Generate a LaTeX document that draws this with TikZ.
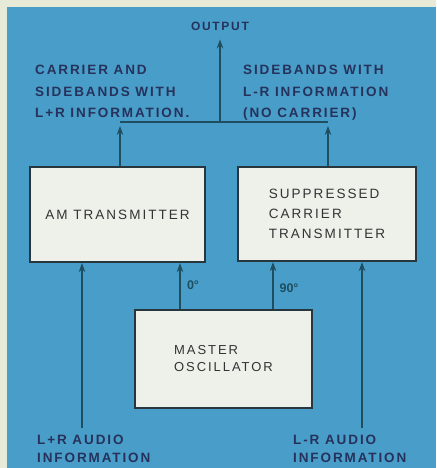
\documentclass[tikz,border=0pt]{standalone}
\usepackage{fontspec}
\setmainfont{Liberation Sans}
\newfontfamily\lblfont[LetterSpace=14]{Liberation Sans}
\newfontfamily\boxfont[LetterSpace=15]{Liberation Sans}
\usetikzlibrary{arrows.meta,positioning}
\definecolor{paper}{RGB}{232,234,216}
\definecolor{panel}{RGB}{72,158,200}
\definecolor{inkblue}{RGB}{38,50,92}
\definecolor{wire}{RGB}{30,78,96}
\definecolor{boxfill}{RGB}{238,240,234}
\definecolor{boxline}{RGB}{40,55,62}
\begin{document}
\begin{tikzpicture}[
    x=1pt, y=-1pt,
    block/.style={draw=boxline, line width=2.2pt, fill=boxfill, align=left, text=black!80,
        font=\boxfont\fontsize{13.5}{20}\selectfont},
    lbl/.style={inner sep=0pt, align=left, text=inkblue, anchor=north west,
        font=\lblfont\bfseries\fontsize{13.5}{21.5}\selectfont},
    phase/.style={inner sep=0pt, text=wire, font=\bfseries\fontsize{12.5}{13}\selectfont},
    link/.style={-{Stealth[length=9pt, width=6.5pt]}, draw=wire, line width=1.8pt},
    bus/.style={draw=wire, line width=1.8pt}
]
\useasboundingbox (0,0) rectangle (436,468);
\fill[paper] (0,0) rectangle (436,468);
\fill[panel] (7,7) rectangle (436,468);

\node[lbl, anchor=center, font=\lblfont\bfseries\fontsize{12}{13}\selectfont] (output) at (220,26) {OUTPUT};
\node[lbl] (sumlbl) at (35,65) {CARRIER AND\\SIDEBANDS WITH\\L+R INFORMATION.};
\node[lbl] (diflbl) at (243,65) {SIDEBANDS WITH\\L-R INFORMATION\\(NO CARRIER)};

\node[block, minimum width=175pt, minimum height=95pt] (amtx) at (117.5,214.5) {AM TRANSMITTER};
\node[block, minimum width=178pt, minimum height=94pt] (sctx) at (327,214) {SUPPRESSED\\CARRIER\\TRANSMITTER};
\node[block, minimum width=177pt, minimum height=98pt,
    font=\boxfont\fontsize{13}{17}\selectfont] (osc) at (223.5,359) {MASTER\\OSCILLATOR};

\node[lbl] (suminlbl) at (37,435) {L+R AUDIO\\[-4pt]INFORMATION};
\node[lbl] (difinlbl) at (293,435) {L-R AUDIO\\[-4pt]INFORMATION};

\node[phase] (ph0) at (193,285) {0°};
\node[phase] (ph90) at (289,288) {90°};

\coordinate (busl) at (120,122);
\coordinate (busr) at (328,122);
\coordinate (busm) at (220,122);
\coordinate (sumin) at (82,428);
\coordinate (difin) at (362,428);
\coordinate (osca) at (180,310);
\coordinate (oscb) at (273,310);

\draw[bus] (busl) -- (busr);
\draw[link] (busm) -- ([yshift=-9pt]output.south);
\draw[link, shorten >=4pt] (busl |- amtx.north) -- (busl);
\draw[link, shorten >=4pt] (busr |- sctx.north) -- (busr);
\draw[link] (sumin) -- (sumin |- amtx.south);
\draw[link] (difin) -- (difin |- sctx.south);
\draw[link] (osca |- osc.north) -- (osca |- amtx.south);
\draw[link] (oscb |- osc.north) -- (oscb |- sctx.south);
\end{tikzpicture}
\end{document}
